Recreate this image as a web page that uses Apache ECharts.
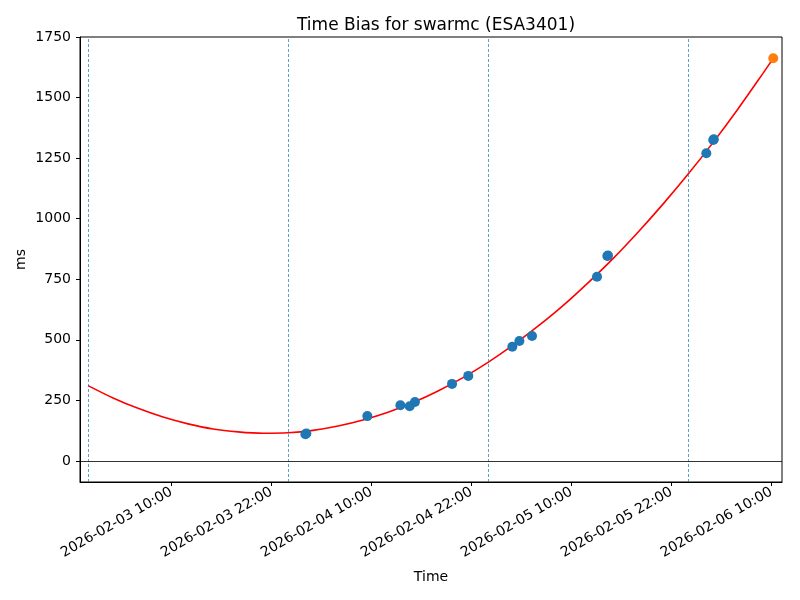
<!DOCTYPE html>
<html>
<head>
<meta charset="utf-8">
<script src="https://cdn.jsdelivr.net/npm/echarts@6/dist/echarts.min.js"></script>
<style>html,body{margin:0;padding:0;background:#fff}#c{width:800px;height:600px}</style>
</head>
<body>
<div id="c"></div>
<script>
// ---- data ----
const obsTimes = ['2026-02-04 02:05','2026-02-04 02:12','2026-02-04 09:31','2026-02-04 13:29','2026-02-04 14:36','2026-02-04 15:14',
  '2026-02-04 19:41','2026-02-04 21:38','2026-02-05 02:55','2026-02-05 03:46','2026-02-05 05:17','2026-02-05 13:05',
  '2026-02-05 14:19','2026-02-05 14:24','2026-02-06 02:12','2026-02-06 03:02','2026-02-06 03:06'];
const obsValues = [110, 113, 185, 230, 226, 243, 318, 351, 471, 495, 516, 760, 846, 848, 1270, 1325, 1328];
const predTimes = ['2026-02-06 10:14'];
const predValues = [1662];
const fitTimes = ['2026-02-03 00:00','2026-02-03 03:00','2026-02-03 06:00','2026-02-03 09:00','2026-02-03 12:00','2026-02-03 15:00',
  '2026-02-03 18:00','2026-02-03 21:00','2026-02-04 00:00','2026-02-04 03:00','2026-02-04 06:00','2026-02-04 09:00',
  '2026-02-04 12:00','2026-02-04 15:00','2026-02-04 18:00','2026-02-04 21:00','2026-02-05 00:00','2026-02-05 03:00',
  '2026-02-05 06:00','2026-02-05 09:00','2026-02-05 12:00','2026-02-05 15:00','2026-02-05 18:00','2026-02-05 21:00',
  '2026-02-06 00:00','2026-02-06 03:00','2026-02-06 06:00','2026-02-06 09:00','2026-02-06 10:14'];
const fitValues = [311, 260, 217, 181, 153, 132, 120, 114, 116, 126, 144, 169, 201, 241, 289, 344, 407, 478,
  556, 641, 735, 835, 944, 1060, 1183, 1314, 1453, 1600, 1662];
const dayLines = ['2026-02-03 00:00','2026-02-04 00:00','2026-02-05 00:00','2026-02-06 00:00'];
const xTickLabels = ['2026-02-03 10:00','2026-02-03 22:00','2026-02-04 10:00','2026-02-04 22:00','2026-02-05 10:00','2026-02-05 22:00','2026-02-06 10:00'];
const yTicks = [0, 250, 500, 750, 1000, 1250, 1500, 1750];
const xRange = ['2026-02-02 23:02', '2026-02-06 11:17'];
const yRange = [-87, 1750];

function ts(s) {
  const [d, t] = s.split(' ');
  const [Y, M, D] = d.split('-').map(Number);
  const [h, m] = t.split(':').map(Number);
  return Date.UTC(Y, M - 1, D, h, m);
}
function pad(n) { return String(n).padStart(2, '0'); }
function fmt(v) {
  const d = new Date(v);
  return d.getUTCFullYear() + '-' + pad(d.getUTCMonth() + 1) + '-' + pad(d.getUTCDate()) + ' ' + pad(d.getUTCHours()) + ':' + pad(d.getUTCMinutes());
}

const font = 'DejaVu Sans';
const chart = echarts.init(document.getElementById('c'), null, { renderer: 'canvas' });
const xTickVals = xTickLabels.map(ts);

chart.setOption({
  animation: false,
  backgroundColor: '#fff',
  textStyle: { fontFamily: font },
  title: {
    text: 'Time Bias for swarmc (ESA3401)',
    left: 431, top: 12, textAlign: 'center',
    textStyle: { fontFamily: font, fontSize: 17, fontWeight: 'normal', color: '#000' }
  },
  grid: { left: 80, right: 18, top: 37, bottom: 118, show: true, borderColor: '#000', borderWidth: 1, backgroundColor: 'transparent' },
  xAxis: {
    type: 'value',
    min: ts(xRange[0]), max: ts(xRange[1]),
    name: 'Time', nameLocation: 'middle', nameGap: 88, nameMoveOverlap: false,
    nameTextStyle: { fontFamily: font, fontSize: 14, color: '#000' },
    axisLine: { show: true, onZero: false, lineStyle: { color: '#000', width: 1 } },
    axisTick: { show: true, length: 4, inside: false, lineStyle: { color: '#000' }, customValues: xTickVals },
    axisLabel: {
      customValues: xTickVals, rotate: 30, margin: 9,
      fontFamily: font, fontSize: 14, color: '#000',
      formatter: v => fmt(v)
    },
    splitLine: { show: false }
  },
  yAxis: {
    type: 'value',
    min: yRange[0], max: yRange[1],
    name: 'ms', nameLocation: 'middle', nameGap: 52, nameMoveOverlap: false,
    nameTextStyle: { fontFamily: font, fontSize: 14, color: '#000' },
    axisLine: { show: true, onZero: false, lineStyle: { color: '#000', width: 1 } },
    axisTick: { show: true, length: 4, lineStyle: { color: '#000' }, customValues: yTicks },
    axisLabel: { customValues: yTicks, fontFamily: font, fontSize: 14, color: '#000', margin: 9, formatter: v => String(v) },
    splitLine: { show: false }
  },
  series: [
    {
      type: 'line', name: 'fit',
      data: fitTimes.map((t, i) => [ts(t), fitValues[i]]),
      showSymbol: false, symbol: 'none', smooth: 0.3,
      lineStyle: { color: '#ff0000', width: 1.6 },
      z: 3,
      markLine: {
        silent: true, symbol: 'none', label: { show: false },
        data: [
          ...dayLines.map(d => ({ xAxis: ts(d), lineStyle: { color: '#1f77b4', type: [3, 2], width: 0.7 } })),
          { yAxis: 0, lineStyle: { color: '#000', type: 'solid', width: 0.8 } }
        ]
      }
    },
    {
      type: 'scatter', name: 'obs',
      data: obsTimes.map((t, i) => [ts(t), obsValues[i]]),
      symbol: 'circle', symbolSize: 10,
      itemStyle: { color: '#1f77b4', opacity: 1 },
      z: 4
    },
    {
      type: 'scatter', name: 'pred',
      data: predTimes.map((t, i) => [ts(t), predValues[i]]),
      symbol: 'circle', symbolSize: 10,
      itemStyle: { color: '#ff7f0e', opacity: 1 },
      z: 5
    }
  ]
});
</script>
</body>
</html>
